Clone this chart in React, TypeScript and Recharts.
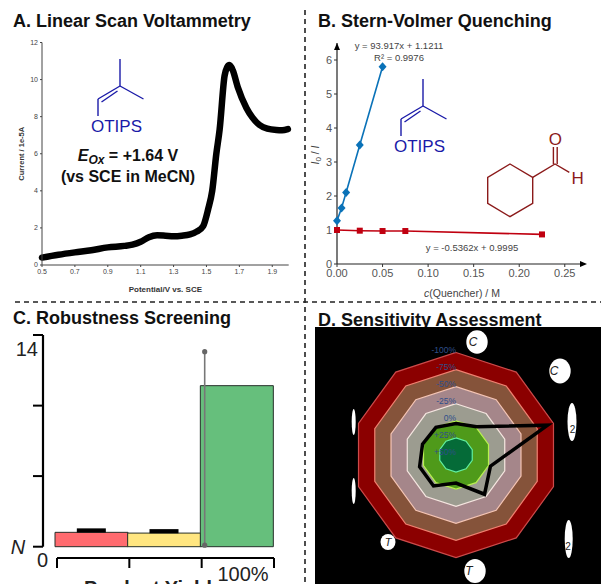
import React from "react";
import {
  LineChart, Line, XAxis, YAxis, ComposedChart, Bar, Cell, Scatter,
  RadarChart, Radar, PolarAngleAxis, PolarRadiusAxis,
} from "recharts";

const FONT = '"Liberation Sans", Arial, sans-serif';

// Panel A
const lsvPotential = [0.5,0.6,0.7,0.8,0.9,1.0,1.05,1.1,1.15,1.2,1.25,1.3,1.35,1.4,1.44,1.48,1.51,1.535,1.56,1.58,1.61,1.625,1.64,1.66,1.69,1.743,1.78,1.823,1.87,1.925,1.96,1.995];
const lsvCurrent = [0.4,0.55,0.68,0.8,0.95,1.03,1.1,1.25,1.5,1.6,1.58,1.55,1.58,1.65,1.8,2.1,3,4,6,7.3,10.2,10.65,10.78,10.5,9.6,8.47,7.95,7.55,7.35,7.28,7.27,7.33];
const lsvTicksX = [0.5,0.7,0.9,1.1,1.3,1.5,1.7,1.9];
const lsvTicksY = [0,2,4,6,8,10,12];

// Panel B
const svBlueX = [0,0.005,0.01,0.025,0.05];
const svBlueY = [1.27,1.65,2.1,3.5,5.8];
const svRedX = [0,0.025,0.05,0.075,0.225];
const svRedY = [1.0,0.98,0.97,0.97,0.87];
const svTicksX = [0,0.05,0.1,0.15,0.2,0.25];
const svTicksY = [0,1,2,3,4,5,6];

// Panel C
const yieldBins = ["low","mid","high"];
const yieldCounts = [0.95,0.9,10.65];
const yieldColors = ["#ff6b6f","#ffe680","#66bf7c"];
const yieldTicksY = [0,4.67,9.33,14];
const capX = [0.5,1.5];
const capY = [1.08,1.03];
const whiskerX = [2.06,2.06];
const whiskerY = [0.1,12.9];
const axisTicksC = [0,1,2,3];

// Panel D
const sensCategories = ["c1","c2","c3","c4","c5","c6","c7","c8","c9","c10"];
const sensValues = [4,-1,-91,-3,-21,9,-6,-6,-1.5,0];
const ringLevels = [-100,-75,-50,-25,0,25];
const ringFills = ["#8b0000","#85533a","#a5868a","#9c9c90","#4f9a1a","#056b38"];
const ringStrokes = ["#cc4a4a","#f08070","#f5c5b5","#f5e6e0","#b8f050","#60f0a0"];

const lsvData = lsvPotential.map((x,i)=>({x,y:lsvCurrent[i]}));
const blueData = svBlueX.map((x,i)=>({x,y:svBlueY[i]}));
const redData = svRedX.map((x,i)=>({x,y:svRedY[i]}));
const yieldData = yieldBins.map((b,i)=>({b,n:yieldCounts[i]}));
const capData = capX.map((x,i)=>({x,y:capY[i]}));
const whiskerData = whiskerX.map((x,i)=>({x,y:whiskerY[i]}));
const axisData = axisTicksC.map((x)=>({x}));
const sensData = sensCategories.map((name,i)=>{
  const row:any = {name, value:sensValues[i]};
  ringLevels.forEach((l,j)=>{row["ring"+j]=l;});
  return row;
});

const abs = (left:number,top:number):React.CSSProperties => ({position:"absolute",left,top});

const Diamond = (p:any)=>(<polygon points={`${p.cx},${p.cy-4.5} ${p.cx+4},${p.cy} ${p.cx},${p.cy+4.5} ${p.cx-4},${p.cy}`} fill="#0a72b8"/>);
const Square = (p:any)=>(<rect x={p.cx-3} y={p.cy-3} width={6} height={6} fill="#c00010"/>);
const Cap = (p:any)=>(<rect x={p.cx-14.5} y={p.cy-2} width={29} height={4.2} fill="#000"/>);
const GreyDot = (p:any)=>(<circle cx={p.cx} cy={p.cy} r={2.6} fill="#666"/>);

const YTickC = (p:any)=>{
  const v = p.payload.value;
  if (v===14) return <text x={38} y={p.y+21} textAnchor="end" fontSize={20} fill="#222" fontFamily={FONT}>14</text>;
  if (v===0) return <text x={18} y={p.y+7} textAnchor="middle" fontSize={20} fontStyle="italic" fill="#222" fontFamily={FONT}>N</text>;
  return <g/>;
};
const XTickC = (p:any)=>{
  const v = p.payload.value;
  if (v===0) return <text x={p.x-14.5} y={27} textAnchor="middle" fontSize={20} fill="#222" fontFamily={FONT}>0</text>;
  if (v===3) return <text x={p.x-31} y={41} textAnchor="middle" fontSize={20} fill="#222" fontFamily={FONT}>100%</text>;
  return <g/>;
};

const ellipses = [
  {cx:477,cy:342,rx:10.7,ry:11.8,t:"C",tx:473,ty:346,fs:12},
  {cx:560,cy:371,rx:10.7,ry:12.5,t:"C",tx:554,ty:375,fs:12},
  {cx:572,cy:422,rx:4.5,ry:19,t:"2",tx:572.5,ty:433,fs:10},
  {cx:568.7,cy:539,rx:4,ry:19,t:"2",tx:568,ty:550,fs:10},
  {cx:475,cy:571,rx:10.7,ry:12,t:"T",tx:469,ty:575,fs:12},
  {cx:388,cy:542,rx:7.5,ry:8,t:"T",tx:388,ty:546,fs:11},
  {cx:353.7,cy:422,rx:2,ry:13,t:"",tx:0,ty:0,fs:10},
  {cx:353.7,cy:491,rx:2,ry:13,t:"",tx:0,ty:0,fs:10},
];

const Enol = ({dx,dy}:{dx:number;dy:number}) => (
  <g transform={`translate(${dx},${dy})`} stroke="#1a1aa8" strokeWidth={1.4} fill="none">
    <line x1={22} y1={0} x2={22} y2={27}/>
    <line x1={22} y1={27} x2={45.5} y2={40}/>
    <line x1={22} y1={27} x2={0} y2={40}/>
    <line x1={3.5} y1={43} x2={19.5} y2={32}/>
    <line x1={0} y1={40} x2={0} y2={57}/>
    <text x={-7} y={73} fontSize={17} fill="#1a1aa8" stroke="none" fontFamily={FONT}>OTIPS</text>
  </g>
);

const titleStyle = {fontFamily:FONT,fontWeight:700,fontSize:18,fill:"#111"};

export default function App(){
  return (
    <div style={{position:"absolute",left:0,top:0,width:601,height:584,overflow:"hidden",background:"#fff",fontFamily:FONT}}>
      <svg width={601} height={584} style={abs(0,0)}>
        <text x={13} y={27} {...titleStyle}>A. Linear Scan Voltammetry</text>
        <text x={318} y={27} {...titleStyle}>B. Stern-Volmer Quenching</text>
        <text x={13} y={324} {...titleStyle}>C. Robustness Screening</text>
        <text x={318} y={326} {...titleStyle}>D. Sensitivity Assessment</text>
        <line x1={305} y1={10} x2={305} y2={584} stroke="#222" strokeWidth={1.6} strokeDasharray="5 4"/>
        <line x1={15} y1={302} x2={601} y2={302} stroke="#222" strokeWidth={1.6} strokeDasharray="5 4"/>
      </svg>

      {/* Panel A */}
      <div style={abs(0,30)}>
        <LineChart width={300} height={270} data={lsvData} margin={{left:12,top:12.5,right:11.3,bottom:15}}>
          <XAxis dataKey="x" type="number" domain={[0.5,2.0]} ticks={lsvTicksX} interval={0} height={20}
            tick={{fontSize:7,fill:"#444",fontFamily:FONT}} tickLine={{stroke:"#444"}} axisLine={{stroke:"#444"}} tickSize={2} tickFormatter={(v:number)=>v.toFixed(1)}
            label={{value:"Potential/V vs. SCE",position:"insideBottom",offset:-7,style:{fontSize:8,fontWeight:700,fill:"#333",fontFamily:FONT}}}/>
          <YAxis type="number" domain={[0,12]} ticks={lsvTicksY} interval={0} width={30}
            tick={{fontSize:7,fill:"#444",fontFamily:FONT}} tickLine={{stroke:"#444"}} axisLine={{stroke:"#444"}} tickSize={2}
            label={{value:"Current / 1e-5A",angle:-90,position:"insideLeft",offset:9,style:{fontSize:7.5,fontWeight:700,fill:"#333",fontFamily:FONT,textAnchor:"middle"}}}/>
          <Line dataKey="y" type="monotone" stroke="#000" strokeWidth={6.5} strokeLinecap="round" dot={false} isAnimationActive={false}/>
        </LineChart>
      </div>

      {/* Panel B */}
      <div style={abs(305,30)}>
        <LineChart width={296} height={270} margin={{left:2,top:13,right:18,bottom:16}}>
          <XAxis dataKey="x" type="number" domain={[0,0.27]} ticks={svTicksX} interval={0} height={20} allowDuplicatedCategory={false}
            tick={{fontSize:11,fill:"#555",fontFamily:FONT}} tickLine={{stroke:"#333"}} axisLine={{stroke:"#222",strokeWidth:1.2}} tickSize={3} tickFormatter={(v:number)=>v.toFixed(2)}/>
          <YAxis type="number" domain={[0,6.5]} ticks={svTicksY} interval={0} width={30}
            tick={{fontSize:11,fill:"#555",fontFamily:FONT}} tickLine={{stroke:"#333"}} axisLine={{stroke:"#222",strokeWidth:1.2}} tickSize={3}/>
          <Line data={blueData} dataKey="y" stroke="#0a72b8" strokeWidth={1.6} dot={<Diamond/>} isAnimationActive={false}/>
          <Line data={redData} dataKey="y" stroke="#c00010" strokeWidth={1.6} dot={<Square/>} isAnimationActive={false}/>
        </LineChart>
      </div>

      {/* Panel C */}
      <div style={abs(0,320)}>
        <ComposedChart width={300} height={240} data={yieldData} barCategoryGap={0} margin={{left:13,top:15,right:27,bottom:13.3}}>
          <XAxis xAxisId="cat" dataKey="b" hide padding={{left:12,right:0}}/>
          <XAxis xAxisId="num" dataKey="x" type="number" domain={[0,3]} hide padding={{left:12,right:0}}/>
          <YAxis type="number" domain={[0,14]} ticks={yieldTicksY} interval={0} width={30} tick={<YTickC/>}
            tickLine={{stroke:"#000",strokeWidth:2}} axisLine={{stroke:"#000",strokeWidth:2.2}} tickSize={10}/>
          <Bar xAxisId="cat" dataKey="n" stroke="#26302a" strokeWidth={1} isAnimationActive={false}>
            {yieldData.map((d,i)=>(<Cell key={d.b} fill={yieldColors[i]}/>))}
          </Bar>
          <Scatter xAxisId="num" data={capData} dataKey="y" shape={<Cap/>} isAnimationActive={false}/>
          <Scatter xAxisId="num" data={whiskerData} dataKey="y" line={{stroke:"#777",strokeWidth:1.6}} shape={<GreyDot/>} isAnimationActive={false}/>
        </ComposedChart>
      </div>
      <div style={abs(0,540)}>
        <ComposedChart width={300} height={60} data={axisData} margin={{left:57,top:8,right:26,bottom:22}}>
          <XAxis type="number" dataKey="x" domain={[0,3]} ticks={axisTicksC} interval={0} height={20} tick={<XTickC/>}
            tickLine={{stroke:"#000",strokeWidth:2}} axisLine={{stroke:"#000",strokeWidth:2}} tickSize={10}/>
          <YAxis hide/>
        </ComposedChart>
      </div>

      {/* Panel D */}
      <div style={{...abs(315,327),background:"#000",width:286,height:257}}>
        <RadarChart width={286} height={257} data={sensData} cx={141} cy={128} outerRadius={102.5} startAngle={90} endAngle={-270}>
          <PolarAngleAxis dataKey="name" tick={false} axisLine={false} tickLine={false}/>
          {ringLevels.map((l,j)=>(
            <Radar key={l} dataKey={"ring"+j} fill={ringFills[j]} fillOpacity={1} stroke={ringStrokes[j]} strokeWidth={1.2} dot={false} isAnimationActive={false}/>
          ))}
          <Radar dataKey="value" fill="none" fillOpacity={0} stroke="#000" strokeWidth={3.5} dot={false} isAnimationActive={false}/>
          <PolarRadiusAxis type="number" domain={[-100,50]} reversed tickCount={7} angle={90} orientation="left"
            axisLine={false} tickLine={false} tick={{fontSize:8.5,fill:"#2f4f8a",fontFamily:FONT}}
            tickFormatter={(v:number)=>(v>0?"+":"")+v+"%"}/>
        </RadarChart>
      </div>

      {/* Annotations */}
      <svg width={601} height={584} style={abs(0,0)}>
        <Enol dx={98} dy={59}/>
        <text x={128} y={161} textAnchor="middle" fontSize={16} fontWeight={700} fill="#111" fontFamily={FONT}>
          <tspan fontStyle="italic">E</tspan><tspan fontStyle="italic" fontSize={12} dy={3}>Ox</tspan><tspan dy={-3}> = +1.64 V</tspan>
        </text>
        <text x={128} y={182} textAnchor="middle" fontSize={16} fontWeight={700} fill="#111" fontFamily={FONT}>(vs SCE in MeCN)</text>

        <Enol dx={401} dy={79}/>
        <g stroke="#8b1a1a" strokeWidth={1.4} fill="none">
          <polygon points="510,164 532.7,177.3 532.7,203.3 510,216.7 487.7,203.3 487.7,177.3"/>
          <polyline points="532.7,177.3 555,164 569.3,172.3"/>
          <line x1={553.4} y1={147} x2={553.4} y2={164}/>
          <line x1={557.2} y1={147} x2={557.2} y2={164}/>
          <text x={555.3} y={145} textAnchor="middle" fontSize={17} fill="#8b1a1a" stroke="none" fontFamily={FONT}>O</text>
          <text x={577.7} y={184} textAnchor="middle" fontSize={17} fill="#8b1a1a" stroke="none" fontFamily={FONT}>H</text>
        </g>
        <g fontFamily={FONT} fill="#444" fontSize={9.5} textAnchor="middle">
          <text x={399} y={49}>y = 93.917x + 1.1211</text>
          <text x={399} y={61}>R² = 0.9976</text>
          <text x={472} y={251}>y = -0.5362x + 0.9995</text>
          <text x={462} y={297} fontSize={10.5}><tspan fontStyle="italic">c</tspan>(Quencher) / M</text>
          <text transform="translate(319,155) rotate(-90)" fontSize={10.5}><tspan fontStyle="italic">I</tspan><tspan fontSize={8} dy={2}>0</tspan><tspan dy={-2}> / </tspan><tspan fontStyle="italic">I</tspan></text>
        </g>
        <polygon points="337,43 334,50 340,50" fill="#000"/>
        <polygon points="587,264 580,261 580,267" fill="#000"/>

        <text x={148} y={595} textAnchor="middle" fontSize={20} fontWeight={700} fill="#222" fontFamily={FONT}>Product Yield</text>

        {ellipses.map((e,i)=>(
          <g key={i}>
            <ellipse cx={e.cx} cy={e.cy} rx={e.rx} ry={e.ry} fill="#fff"/>
            {e.t ? <text x={e.tx} y={e.ty} textAnchor="middle" fontSize={e.fs} fontStyle={e.t==="2"?"normal":"italic"} fill="#222" fontFamily={FONT}>{e.t}</text> : null}
          </g>
        ))}
      </svg>
    </div>
  );
}
